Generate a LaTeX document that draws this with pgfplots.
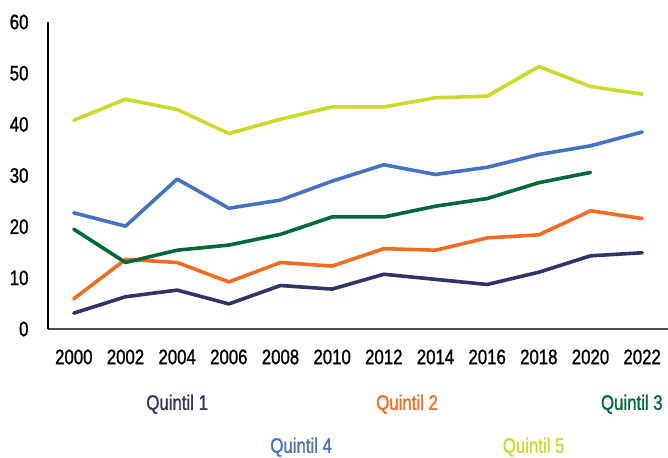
\documentclass[border=0pt]{standalone}
\usepackage{pgfplots}
\pgfplotsset{compat=1.18}
\usepackage{fontspec}
\setmainfont{Liberation Sans}[FakeStretch=0.8, FakeBold=1.2]
\definecolor{qone}{HTML}{33336B}
\definecolor{qtwo}{HTML}{F26B21}
\definecolor{qthree}{HTML}{00693A}
\definecolor{qfour}{HTML}{4472C4}
\definecolor{qfive}{HTML}{CCDB2A}
\begin{document}
\begin{tikzpicture}
\useasboundingbox (-48pt,-128pt) rectangle (620pt,329pt);
\begin{axis}[
  scale only axis,
  width=620pt, height=307pt,
  xmin=1999, xmax=2023,
  ymin=0, ymax=60,
  axis x line*=bottom,
  axis y line*=left,
  axis line style={line width=1.4pt},
  x axis line style={-, draw=black!70},
  y axis line style={-, draw=black},
  xtick={2000,2002,...,2022},
  ytick={0,10,...,60},
  major tick length=0pt,
  /pgf/number format/assume math mode=true,
  xticklabel={\pgfmathprintnumber[1000 sep={}]{\tick}},
  xticklabel style={font=\fontsize{21}{23}\selectfont, anchor=north, yshift=-17pt},
  yticklabel style={font=\fontsize{21}{23}\selectfont, anchor=east, xshift=-16pt},
  clip=false,
  every axis plot/.append style={line width=3.6pt, line join=round, line cap=round, mark=none},
]
\addplot[color=qone] coordinates {(2000,3.1)(2002,6.3)(2004,7.6)(2006,4.9)(2008,8.5)(2010,7.8)(2012,10.7)(2014,9.7)(2016,8.7)(2018,11.1)(2020,14.3)(2022,14.9)};
\addplot[color=qtwo] coordinates {(2000,5.9)(2002,13.6)(2004,13.0)(2006,9.2)(2008,13.0)(2010,12.3)(2012,15.7)(2014,15.4)(2016,17.8)(2018,18.4)(2020,23.1)(2022,21.6)};
\addplot[color=qthree] coordinates {(2000,19.5)(2002,13.0)(2004,15.4)(2006,16.4)(2008,18.5)(2010,21.9)(2012,21.9)(2014,24.0)(2016,25.5)(2018,28.6)(2020,30.6)};
\addplot[color=qfour] coordinates {(2000,22.7)(2002,20.1)(2004,29.3)(2006,23.6)(2008,25.2)(2010,28.9)(2012,32.1)(2014,30.2)(2016,31.6)(2018,34.1)(2020,35.8)(2022,38.5)};
\addplot[color=qfive] coordinates {(2000,40.8)(2002,44.9)(2004,42.9)(2006,38.2)(2008,41.0)(2010,43.4)(2012,43.4)(2014,45.2)(2016,45.5)(2018,51.3)(2020,47.4)(2022,45.9)};
\node[text=qone, font=\fontsize{21}{23}\selectfont] at (axis cs:2004.0,-14.7) {Quintil 1};
\node[text=qtwo, font=\fontsize{21}{23}\selectfont] at (axis cs:2012.9,-14.7) {Quintil 2};
\node[text=qthree, font=\fontsize{21}{23}\selectfont] at (axis cs:2021.6,-14.7) {Quintil 3};
\node[text=qfour, font=\fontsize{21}{23}\selectfont] at (axis cs:2008.8,-23.1) {Quintil 4};
\node[text=qfive, font=\fontsize{21}{23}\selectfont] at (axis cs:2017.8,-23.1) {Quintil 5};
\end{axis}
\end{tikzpicture}
\end{document}
